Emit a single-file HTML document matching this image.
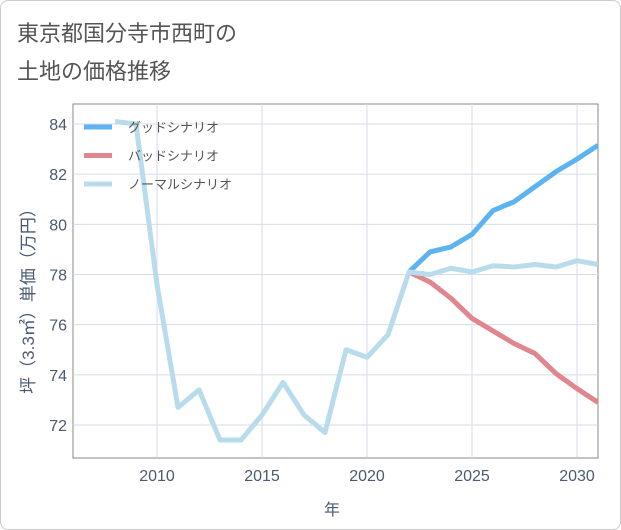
<!DOCTYPE html>
<html><head><meta charset="utf-8"><style>
body{margin:0;background:#fff;font-family:"Liberation Sans","Noto Sans CJK JP",sans-serif;}
#wrap{position:relative;width:619px;height:528px;border:1px solid #ccc;border-radius:8px;overflow:hidden;}
</style></head><body>
<div id="wrap">
<svg id="chart" width="621" height="530">
<text x="16" y="40" font-size="22" fill="#555">東京都国分寺市西町の</text>
<text x="16" y="78" font-size="22" fill="#555">土地の価格推移</text>
<g id="grid"></g><g id="series"></g><g id="legend"></g>
<text x="331" y="514" font-size="16" fill="#4a5a70" text-anchor="middle">年</text>
<text transform="translate(33,296) rotate(-90)" font-size="17" fill="#4a5a70" text-anchor="middle">坪（3.3㎡）単価（万円）</text>
</svg>
</div>
<script>
const years=[2008,2009,2010,2011,2012,2013,2014,2015,2016,2017,2018,2019,2020,2021,2022,2023,2024,2025,2026,2027,2028,2029,2030,2031];
const normal=[84.1,84.0,77.6,72.7,73.4,71.4,71.4,72.4,73.7,72.4,71.7,75.0,74.7,75.6,78.1,78.0,78.25,78.1,78.35,78.3,78.4,78.3,78.55,78.4];
const goodYears=[2022,2023,2024,2025,2026,2027,2028,2029,2030,2031];
const good=[78.1,78.9,79.1,79.6,80.55,80.9,81.5,82.1,82.6,83.15];
const bad=[78.1,77.7,77.05,76.25,75.75,75.25,74.85,74.05,73.45,72.9];
const xTicks=[2010,2015,2020,2025,2030];
const yTicks=[72,74,76,78,80,82,84];
const NS="http://www.w3.org/2000/svg";
const L=72,R=597,T=103,B=457;
const x=v=>156+(v-2010)*21;
const y=v=>424-(v-72)*(301/12);
function mk(tag,attrs,parent){const e=document.createElementNS(NS,tag);for(const k in attrs)e.setAttribute(k,attrs[k]);parent.appendChild(e);return e;}
const grid=document.getElementById('grid');
const frame=mk('rect',{x:L,y:T,width:R-L,height:B-T,fill:'none',stroke:'#888','stroke-width':1},grid);


xTicks.forEach(t=>{
 const l=mk('line',{x1:x(t),x2:x(t),y1:T,y2:B,stroke:'#d5dde8','stroke-width':1},grid);
 
 
 const tx=mk('text',{x:x(t),y:480,'font-size':16,fill:'#4a5a70','text-anchor':'middle'},grid);
 tx.textContent=t;
 
 
});
yTicks.forEach(t=>{
 const l=mk('line',{x1:L,x2:R,y1:y(t),y2:y(t),stroke:'#d5dde8','stroke-width':1},grid);
 
 
 const tx=mk('text',{x:66,y:y(t)+6,'font-size':16,fill:'#4a5a70','text-anchor':'end'},grid);
 tx.textContent=t;
 
 
});
const ser=document.getElementById('series');
function line(xs,vs,color,name){
 const p=mk('polyline',{points:xs.map((v,i)=>x(v)+','+y(vs[i])).join(' '),fill:'none',stroke:color,'stroke-width':5,'stroke-linejoin':'round'},ser);
 
 
}
const cp=mk('clipPath',{id:'cp'},ser);mk('rect',{x:L,y:T,width:R-L,height:B-T},cp);
ser.setAttribute('clip-path','url(#cp)');
line(goodYears,bad,'#e0868e','bad-scenario-line');
line(goodYears,good,'#5bb4f0','good-scenario-line');
line(years,normal,'#b9dcec','normal-scenario-line');
const lg=document.getElementById('legend');
[['グッドシナリオ','#5bb4f0','legend-good'],['バッドシナリオ','#e0868e','legend-bad'],['ノーマルシナリオ','#b9dcec','legend-normal']].forEach((d,i)=>{
 const g=mk('g',{},lg);
 
 
 const yy=126+i*28.5;
 mk('line',{x1:83,x2:111,y1:yy,y2:yy,stroke:d[1],'stroke-width':5},g);
 const t=mk('text',{x:127,y:yy+5,'font-size':13,fill:'#555'},g);t.textContent=d[0];
});
</script>
</body></html>
